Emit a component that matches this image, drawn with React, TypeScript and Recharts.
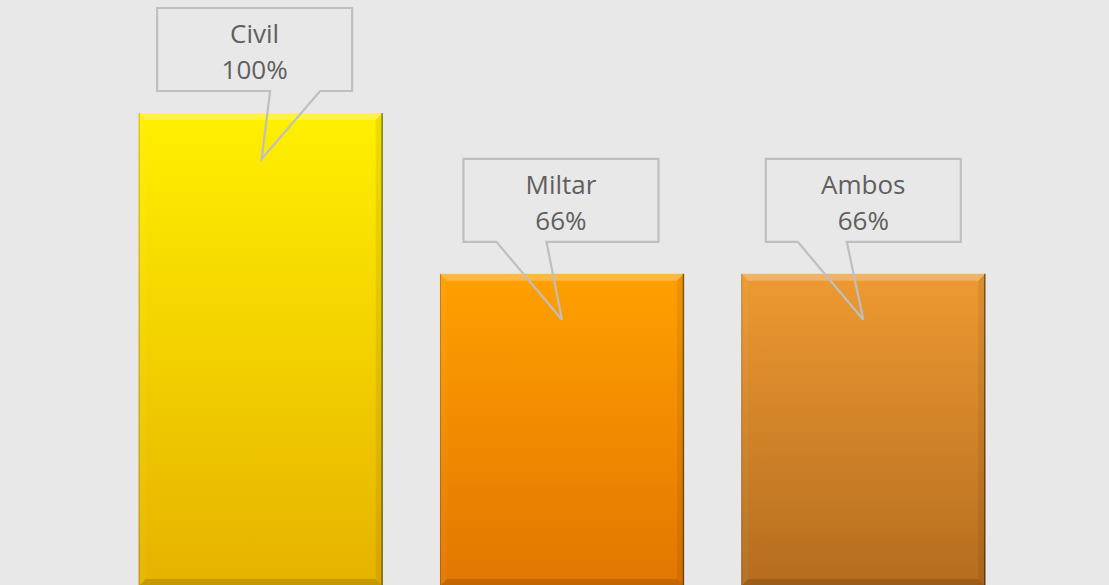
import React from "react";
import { BarChart, Bar, XAxis, YAxis, LabelList } from "recharts";

const categories = ["Civil", "Miltar", "Ambos"];
const values = [100, 66, 66];
const data = categories.map((name, i) => ({ name, value: values[i] }));

const gradTop = ["#FFF000", "#FFA000", "#EE9A32"];
const gradBottom = ["#E6B200", "#E27600", "#B46C1E"];

// callout layout relative to bar
const calloutLayout = [
  { boxDx: -6, boxTop: -105, ptrL: 113, ptrR: 163, tipDx: 1 },
  { boxDx: -1, boxTop: -115, ptrL: 33, ptrR: 83, tipDx: 0 },
  { boxDx: 0, boxTop: -115, ptrL: 32, ptrR: 81, tipDx: 0 },
];

const BevelBar = (props: any) => {
  const { x, y, width: w, height: h, index } = props;
  const b = 7;
  return (
    <g>
      <rect x={x} y={y} width={w} height={h} fill={`url(#barGrad${index})`} />
      <polygon
        points={`${x},${y} ${x + w},${y} ${x + w - b},${y + b} ${x + b},${y + b}`}
        fill="#fff"
        fillOpacity={0.25}
      />
      <polygon
        points={`${x},${y} ${x + b},${y + b} ${x + b},${y + h - b} ${x},${y + h}`}
        fill="#fff"
        fillOpacity={0.04}
      />
      <polygon
        points={`${x + w},${y} ${x + w},${y + h} ${x + w - b},${y + h - b} ${x + w - b},${y + b}`}
        fill="#000"
        fillOpacity={0.07}
      />
      <polygon
        points={`${x},${y + h} ${x + w},${y + h} ${x + w - b},${y + h - b} ${x + b},${y + h - b}`}
        fill="#000"
        fillOpacity={0.14}
      />
      <line x1={x + 0.5} y1={y} x2={x + 0.5} y2={y + h} stroke="#000" strokeOpacity={0.22} strokeWidth={1} />
      <line x1={x + w - 0.5} y1={y} x2={x + w - 0.5} y2={y + h} stroke="#000" strokeOpacity={0.45} strokeWidth={1.5} />
    </g>
  );
};

const Callout = (props: any) => {
  const { x, y, width, value, index } = props;
  const i = index ?? 0;
  const L = calloutLayout[i];
  const cx = x + width / 2;
  const bw = 195;
  const bh = 83;
  const left = cx - bw / 2 + L.boxDx;
  const top = y + L.boxTop;
  const bottom = top + bh;
  const tipX = cx + L.tipDx;
  const tipY = y + 46;
  const d = `M ${left + L.ptrL} ${bottom} L ${left} ${bottom} L ${left} ${top} L ${left + bw} ${top} L ${left + bw} ${bottom} L ${left + L.ptrR} ${bottom} L ${tipX} ${tipY} Z`;
  const tx = left + bw / 2;
  return (
    <g>
      <path d={d} fill="none" stroke="#BFBFBF" strokeWidth={2.2} strokeLinejoin="miter" />
      <text x={tx} y={top + 35} textAnchor="middle" fontFamily="'Open Sans', sans-serif" fontSize={26} fill="#5F5F5F">
        {categories[i]}
      </text>
      <text x={tx} y={top + 71} textAnchor="middle" fontFamily="'Open Sans', sans-serif" fontSize={26} fill="#5F5F5F">
        {`${value}%`}
      </text>
    </g>
  );
};

export default function App() {
  return (
    <div
      style={{
        position: "absolute",
        left: 0,
        top: 0,
        width: 1109,
        height: 585,
        overflow: "hidden",
        background: "#E8E8E8",
      }}
    >
      <BarChart
        width={1109}
        height={600}
        data={data}
        margin={{ top: 113, right: 95, bottom: 14, left: 110 }}
        barCategoryGap="9.5%"
      >
        <defs>
          {categories.map((c, i) => (
            <linearGradient key={c} id={`barGrad${i}`} x1="0" y1="0" x2="0" y2="1">
              <stop offset="0%" stopColor={gradTop[i]} />
              <stop offset="100%" stopColor={gradBottom[i]} />
            </linearGradient>
          ))}
        </defs>
        <XAxis dataKey="name" hide />
        <YAxis type="number" domain={[0, 100]} hide />
        <Bar dataKey="value" isAnimationActive={false} shape={<BevelBar />}>
          <LabelList dataKey="value" content={<Callout />} />
        </Bar>
      </BarChart>
    </div>
  );
}
